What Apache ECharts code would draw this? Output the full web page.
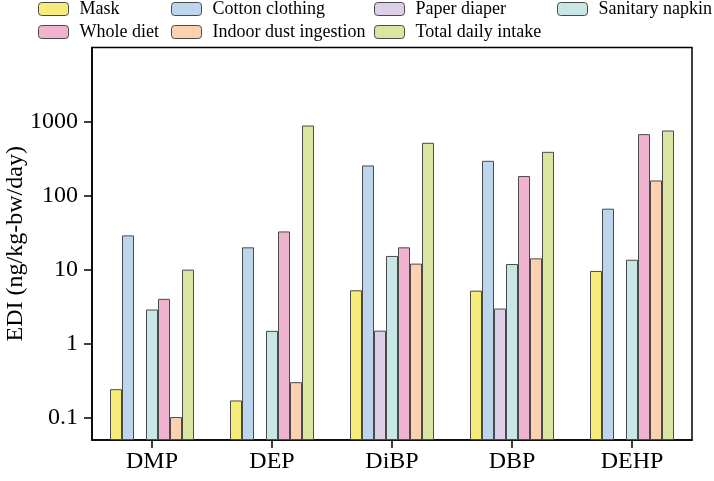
<!DOCTYPE html>
<html>
<head>
<meta charset="utf-8">
<script src="https://cdn.jsdelivr.net/npm/echarts@6/dist/echarts.min.js"></script>
<style>
html,body{margin:0;padding:0;background:#fff;}
#chart{width:714px;height:481px;}
</style>
</head>
<body>
<div id="chart"></div>
<script>
const categories = ['DMP', 'DEP', 'DiBP', 'DBP', 'DEHP'];
const seriesNames = ['Mask', 'Cotton clothing', 'Paper diaper', 'Sanitary napkin', 'Whole diet', 'Indoor dust ingestion', 'Total daily intake'];
const mask = [0.243, 0.171, 5.26, 5.2, 9.6];
const cottonClothing = [29, 20, 255, 295, 66.5];
const paperDiaper = [null, null, 1.5, 2.98, null];
const sanitaryNapkin = [2.89, 1.49, 15.3, 11.9, 13.6];
const wholeDiet = [4.03, 32.8, 20, 183.6, 676];
const indoorDust = [0.102, 0.302, 12.05, 14.2, 160];
const totalDaily = [10, 884, 516, 390, 757];
const yTicks = [0.1, 1, 10, 100, 1000];

const colors = ['#F6EC7C', '#BDD6ED', '#DDD0E6', '#C8E6E5', '#F0B3CF', '#FBD1B2', '#DAE5A2'];
const dataSets = [mask, cottonClothing, paperDiaper, sanitaryNapkin, wholeDiet, indoorDust, totalDaily];
const FONT = 'Liberation Serif';

const chart = echarts.init(document.getElementById('chart'));

const legendGroups = [
  {left: 38, items: [0, 4]},
  {left: 171, items: [1, 5]},
  {left: 374, items: [2, 6]},
  {left: 557, items: [3]}
];

const option = {
  animation: false,
  backgroundColor: '#fff',
  legend: legendGroups.map(g => ({
    left: g.left,
    top: 0,
    orient: 'vertical',
    itemWidth: 30,
    itemHeight: 13,
    itemGap: 5,
    padding: 0,
    selectedMode: false,
    data: g.items.map(i => seriesNames[i]),
    itemStyle: {borderColor: '#4a4a4a', borderWidth: 1},
    textStyle: {fontFamily: FONT, fontSize: 18, color: '#000', lineHeight: 18, padding: [0, 0, 0, 6]}
  })),
  grid: {
    left: 92, right: 22, top: 47.5, bottom: 41,
    show: true, borderColor: '#000', borderWidth: 1.5,
    containLabel: false, outerBoundsMode: 'none'
  },
  xAxis: {
    type: 'category',
    data: categories,
    axisLine: {show: true, lineStyle: {color: '#000', width: 1.5}},
    axisTick: {show: true, alignWithLabel: true, length: 8, lineStyle: {color: '#000', width: 1.5}},
    axisLabel: {fontFamily: FONT, fontSize: 24, color: '#000', margin: 10}
  },
  yAxis: {
    type: 'log',
    logBase: 10,
    min: 0.05,
    max: 10000,
    startValue: 0.05,
    name: 'EDI (ng/kg-bw/day)',
    nameLocation: 'middle',
    nameGap: 64,
    nameMoveOverlap: false,
    nameTextStyle: {fontFamily: FONT, fontSize: 24, color: '#000'},
    axisLine: {show: true, lineStyle: {color: '#000', width: 1.5}},
    axisTick: {show: true, length: 8, customValues: yTicks, lineStyle: {color: '#000', width: 1.5}},
    axisLabel: {
      fontFamily: FONT, fontSize: 24, color: '#000', margin: 14,
      customValues: yTicks,
      formatter: v => String(v)
    },
    splitLine: {show: false}
  },
  series: seriesNames.map((name, i) => ({
    name: name,
    type: 'bar',
    data: dataSets[i],
    barGap: '0%',
    barCategoryGap: '30%',
    itemStyle: {color: colors[i], borderColor: '#4a4a4a', borderWidth: 1}
  }))
};
chart.setOption(option);
</script>
</body>
</html>
